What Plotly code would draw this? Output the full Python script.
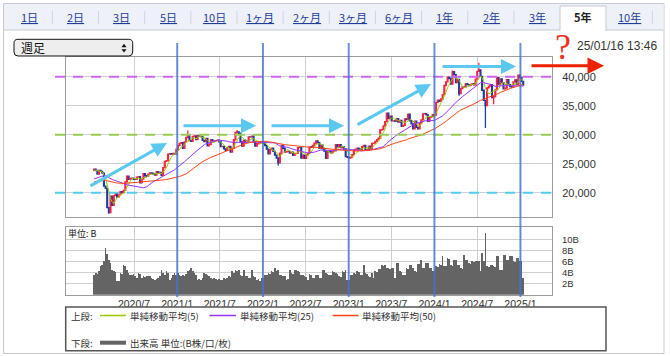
import pandas as pd
import plotly.graph_objects as go

# ---------------- data ----------------
# weekly closes used only to warm up the moving averages (Jan 2019 - Jan 2020)
close_2019 = [20774, 20788, 20333, 20900, 21425, 21602, 21025, 21450, 21627, 21205,
              21807, 21870, 22200, 22258, 21344, 21250, 21117, 20601, 20884, 21116,
              21258, 21275, 21746, 21685, 21466, 21658, 21087, 20684, 20418, 20710,
              20704, 21199, 21988, 22079, 21879, 21410, 21798, 22492, 22799, 22850,
              23391, 23303, 23112, 23293, 23354, 24023, 23816, 23837, 23850]
close_2020 = [24041, 23827, 23205, 23827, 23688, 23386, 21142, 20749, 17431, 16552,
              19389, 17820, 19498, 19897, 19262, 19619, 20179, 20037, 20388, 21877,
              22863, 22305, 22478, 22512, 22306, 22290, 22696, 22751, 21710, 22329,
              23289, 22920, 22882, 23205, 23406, 23360, 23204, 23029, 23619, 23410,
              23516, 22977, 24325, 25385, 25527, 26644, 26751, 26652, 26763, 26656, 27444]
close_2021 = [28139, 28519, 28631, 27663, 28779, 29520, 30018, 28966, 28864, 29717,
              29792, 29176, 29854, 29768, 29683, 29020, 28812, 29357, 28084, 28317,
              29149, 28941, 28948, 28964, 29066, 28783, 27940, 28003, 27548, 27283,
              27820, 27977, 27013, 27641, 29128, 30381, 30500, 30248, 28771, 28048,
              29068, 28804, 28892, 29611, 29609, 29745, 28751, 28029, 28437, 28545, 28782, 28791]
close_2022 = [28479, 28124, 27522, 26717, 27440, 27696, 27122, 26476, 25985, 25163,
              26827, 28149, 27666, 26985, 27093, 27105, 26848, 27003, 26427, 26739,
              26781, 27761, 27824, 25963, 26491, 25935, 26517, 26788, 27914, 27801,
              28175, 28546, 28930, 28641, 27650, 28214, 27567, 27153, 25937, 27116,
              27090, 26890, 27105, 27199, 28263, 27899, 28283, 27777, 27901, 27527, 26235, 26094]
close_2023 = [25973, 26119, 26553, 27382, 27509, 27670, 27513, 27453, 27927, 28143,
              27333, 27385, 28041, 27518, 28493, 28564, 28856, 29157, 29388, 30808,
              30916, 31524, 32265, 33706, 32781, 33189, 32388, 32391, 32304, 32759,
              32193, 32473, 31450, 31624, 32710, 32606, 33533, 32402, 31857, 30994,
              32315, 31259, 30991, 31950, 32568, 33585, 33625, 33431, 32307, 32970, 33169, 33464]
close_2024 = [33377, 35577, 35963, 35751, 36158, 36897, 38487, 39098, 39910, 39689,
              38707, 40888, 40369, 38992, 39523, 37068, 37934, 38236, 38229, 38787,
              38646, 38487, 38683, 38814, 38596, 39583, 40912, 41190, 40063, 37667,
              35909, 35025, 38062, 38364, 38647, 36391, 36581, 37723, 39829, 38635,
              39605, 38981, 37913, 38053, 39500, 38642, 38283, 38208, 39091, 39470, 38701, 40281, 39894]
close_2025 = [39190, 38572]

# notable weekly wicks (week start, high, low)
wick_weeks = ["2020-01-13", "2020-03-16", "2020-03-23", "2021-02-15", "2021-09-13",
              "2022-03-07", "2023-06-12", "2024-03-18", "2024-04-15", "2024-07-08",
              "2024-08-05", "2024-09-09"]
wick_high = [24116, None, 19564, 30714, 30795, None, 33772, 41087, None, 42426, None, None]
wick_low = [None, 16358, None, None, None, 24681, None, None, 36733, None, 31156, 35247]

# weekly volume in billions of shares
vol_2020 = [3.6, 3.9, 3.8, 4.2, 5.1, 5.4, 6.0, 8.5, 7.4, 6.3, 5.7, 4.5, 4.2, 4.1, 2.4, 2.5,
            3.9, 3.8, 5.4, 5.2, 4.5, 3.9, 3.6, 3.5, 3.7, 3.3, 3.0, 4.0, 3.8, 3.0, 3.3, 3.2,
            3.4, 3.4, 3.3, 3.0, 2.9, 2.6, 2.9, 3.0, 3.3, 4.5, 4.0, 3.6, 4.2, 4.0, 2.7, 3.0,
            3.6, 3.9, 3.5]
vol_2021 = [3.9, 3.6, 3.3, 3.6, 3.3, 3.7, 4.2, 4.5, 4.8, 4.2, 3.9, 3.6, 2.7, 2.8, 2.7, 3.0,
            3.9, 3.8, 3.6, 3.3, 3.0, 2.9, 3.0, 2.9, 2.7, 2.8, 2.7, 2.6, 3.0, 2.8, 3.0, 3.3,
            3.2, 4.2, 4.0, 4.5, 4.3, 4.5, 3.6, 3.3, 4.5, 3.3, 3.4, 3.0, 3.1, 4.5, 3.3, 3.2,
            2.7, 2.8, 2.5, 3.0]
vol_2022 = [3.0, 3.6, 3.5, 3.9, 3.8, 4.2, 4.1, 4.9, 4.3, 4.4, 3.6, 3.5, 3.3, 3.4, 2.7, 2.8,
            4.5, 3.9, 3.8, 4.5, 4.4, 4.2, 4.1, 3.6, 3.5, 3.3, 3.2, 2.7, 3.7, 3.6, 3.0, 3.1,
            3.6, 3.5, 3.0, 3.1, 4.5, 4.4, 3.9, 3.8, 3.6, 3.5, 4.2, 4.1, 3.9, 3.8, 3.3, 3.2,
            4.2, 4.1, 4.5, 2.7]
vol_2023 = [2.7, 3.6, 3.5, 3.9, 3.8, 4.2, 4.1, 3.6, 3.5, 5.3, 3.9, 3.8, 3.3, 3.2, 3.9, 3.0,
            4.2, 4.1, 4.7, 4.6, 5.3, 5.2, 5.3, 4.9, 4.8, 4.7, 4.9, 4.8, 3.0, 5.8, 5.7, 4.2,
            4.1, 3.6, 3.5, 4.8, 4.7, 5.4, 5.3, 4.8, 4.2, 4.1, 5.6, 5.5, 6.2, 4.9, 4.8, 5.8,
            5.7, 4.9, 4.8, 4.2]
vol_2024 = [4.2, 5.1, 5.0, 5.5, 5.4, 6.9, 5.2, 5.1, 6.6, 6.5, 5.3, 5.2, 6.3, 6.2, 5.4, 5.3,
            4.8, 4.7, 7.2, 6.3, 6.2, 5.7, 5.6, 6.0, 5.9, 6.0, 6.1, 6.0, 4.2, 7.5, 6.0, 11.2,
            5.1, 5.0, 5.4, 5.3, 5.1, 5.0, 7.0, 6.9, 4.5, 4.4, 7.2, 7.1, 6.3, 6.2, 7.0, 6.9,
            6.0, 5.9, 6.7, 6.6, 6.1]
vol_2025 = [6.1, 3.0]

first_week = "2020-01-13"
x_tick_dates = ["2020-07-01", "2021-01-01", "2021-07-01", "2022-01-01", "2022-07-01",
                "2023-01-01", "2023-07-01", "2024-01-01", "2024-07-01", "2025-01-01"]
x_tick_labels = ["2020/7", "2021/1", "2021/7", "2022/1", "2022/7",
                 "2023/1", "2023/7", "2024/1", "2024/7", "2025/1"]
marker_dates = ["2021-01-01", "2022-01-01", "2023-01-01", "2024-01-01", "2025-01-01"]
price_ticks = [20000, 25000, 30000, 35000, 40000]
price_tick_labels = ["20,000", "25,000", "30,000", "35,000", "40,000"]
vol_ticks = [2, 4, 6, 8, 10]
vol_tick_labels = ["2B", "4B", "6B", "8B", "10B"]
level_prices = [40000, 30000, 20000]
level_colors = ["#cc66ee", "#99cc55", "#55ccee"]
tab_labels = ["1日", "2日", "3日", "5日", "10日", "1ヶ月", "2ヶ月", "3ヶ月", "6ヶ月",
              "1年", "2年", "3年", "5年", "10年"]
active_tab = "5年"
ma_periods = [5, 25, 50]
ma_colors = ["#99cc00", "#9933ff", "#ff4411"]
ma_names = ["単純移動平均(5)", "単純移動平均(25)", "単純移動平均(50)"]

# ---------------- derived series ----------------
closes = close_2020 + close_2021 + close_2022 + close_2023 + close_2024 + close_2025
volumes = vol_2020 + vol_2021 + vol_2022 + vol_2023 + vol_2024 + vol_2025
dates = pd.date_range(first_week, periods=len(closes), freq="7D")
opens = [close_2019[-1]] + closes[:-1]
highs = [max(o, c) for o, c in zip(opens, closes)]
lows = [min(o, c) for o, c in zip(opens, closes)]
for d, h, l in zip(wick_weeks, wick_high, wick_low):
    k = list(dates).index(pd.Timestamp(d))
    if h is not None:
        highs[k] = max(highs[k], h)
    if l is not None:
        lows[k] = min(lows[k], l)
full = pd.Series(close_2019 + closes)
n0 = len(close_2019)
mas = [full.rolling(p).mean().iloc[n0:].tolist() for p in ma_periods]

# ---------------- layout helpers ----------------
W, H = 670, 356
def px(x): return x / W
def py(y): return 1 - y / H

ref_day = pd.Timestamp("2020-07-01")   # sits at pixel 134
ppd = 85.8 / 365.25
x_left = ref_day - pd.Timedelta(days=(134 - 66) / ppd)
x_right = ref_day + pd.Timedelta(days=(552 - 134) / ppd)

FONT = "Liberation Sans, Arial, Noto Sans CJK JP, sans-serif"
JFONT = "Noto Sans CJK JP, Liberation Sans, sans-serif"
GRID = "#cfcfcf"
BORDER = "#9c9c9c"

def text(x, y, s, size, color="#333333", family=JFONT, xanchor="left", **kw):
    f = dict(family=family, size=size, color=color)
    f.update(kw)
    return dict(x=px(x), y=py(y), xref="paper", yref="paper", text=s, showarrow=False,
                xanchor=xanchor, yanchor="middle", font=f, borderpad=0)

fig = go.Figure()
fig.add_trace(go.Bar(x=dates, y=volumes, xaxis="x2", yaxis="y2",
                     marker=dict(color="#646464", line=dict(width=0)), hoverinfo="skip"))
fig.add_trace(go.Candlestick(x=dates, open=opens, high=highs, low=lows, close=closes,
                             increasing=dict(line=dict(color="#ff2244", width=1.3), fillcolor="#ff2244"),
                             decreasing=dict(line=dict(color="#1a3d99", width=1.3), fillcolor="#1a3d99"),
                             whiskerwidth=0, hoverinfo="skip"))
for ma, col in zip(mas, ma_colors):
    fig.add_trace(go.Scatter(x=dates, y=ma, mode="lines", line=dict(color=col, width=1),
                             hoverinfo="skip"))

shapes = []
ann = []
# outer frame & tab bar
shapes.append(dict(type="rect", xref="paper", yref="paper", x0=px(3.5), x1=px(664), y0=py(353.5), y1=py(3.5),
                   line=dict(color="#c5c9d1", width=1), fillcolor="white", layer="below"))
shapes.append(dict(type="rect", xref="paper", yref="paper", x0=px(4), x1=px(663.5), y0=py(30), y1=py(4),
                   line=dict(width=0), fillcolor="#eef2f8", layer="below"))
shapes.append(dict(type="line", xref="paper", yref="paper", x0=px(4), x1=px(663.5), y0=py(30), y1=py(30),
                   line=dict(color="#c5c9d1", width=1)))
shapes.append(dict(type="rect", xref="paper", yref="paper", x0=px(560), x1=px(606), y0=py(30.5), y1=py(6),
                   line=dict(color="#c5c9d1", width=1), fillcolor="white"))
shapes.append(dict(type="line", xref="paper", yref="paper", x0=px(560.6), x1=px(605.4), y0=py(30.2), y1=py(30.2),
                   line=dict(color="white", width=2)))
for j in range(len(tab_labels)):
    xs = 52.4 + 46.15 * j
    if abs(xs - 560) < 3 or abs(xs - 606) < 3:
        continue
    shapes.append(dict(type="line", xref="paper", yref="paper", x0=px(xs), x1=px(xs), y0=py(24), y1=py(11),
                       line=dict(color="#cfd4dc", width=1)))
for j, lab in enumerate(tab_labels):
    xc = 29.6 + 46.15 * j
    if lab == active_tab:
        ann.append(text(xc, 17.5, "<b>" + lab + "</b>", 11, "#222222", xanchor="center"))
    else:
        ann.append(text(xc, 17.5, lab, 11, "#1f3d9a", xanchor="center", lineposition="under"))

# dropdown
x0, y0, x1, y1, r = 14, 39.3, 132.7, 56, 4
def P(x, y): return f"{px(x):.5f},{py(y):.5f}"
path = (f"M {P(x0+r,y0)} L {P(x1-r,y0)} Q {P(x1,y0)} {P(x1,y0+r)} L {P(x1,y1-r)} Q {P(x1,y1)} {P(x1-r,y1)} "
        f"L {P(x0+r,y1)} Q {P(x0,y1)} {P(x0,y1-r)} L {P(x0,y0+r)} Q {P(x0,y0)} {P(x0+r,y0)} Z")
shapes.append(dict(type="path", xref="paper", yref="paper", path=path,
                   line=dict(color="#111111", width=1), fillcolor="#eeeeee"))
shapes.append(dict(type="path", xref="paper", yref="paper",
                   path=f"M {P(121.5,47.2)} L {P(126.5,47.2)} L {P(124,43.8)} Z", line=dict(width=0), fillcolor="#111"))
shapes.append(dict(type="path", xref="paper", yref="paper",
                   path=f"M {P(121.5,49.2)} L {P(126.5,49.2)} L {P(124,52.6)} Z", line=dict(width=0), fillcolor="#111"))
ann.append(text(20, 47.5, "週足", 12, "#111111"))

# top-right
ann.append(text(563, 47, "?", 36, "#ee3322", family="Liberation Serif, serif", xanchor="center"))
ann.append(text(576, 45.5, "25/01/16 13:46", 12, "#333333", family=FONT))

# horizontal dashed levels
for lv, col in zip(level_prices, level_colors):
    shapes.append(dict(type="line", xref="paper", yref="y", x0=px(55), x1=px(558), y0=lv, y1=lv,
                       line=dict(color=col, width=2, dash="10px,8px"), layer="above"))
# blue vertical markers
for d in marker_dates:
    shapes.append(dict(type="line", xref="x", yref="paper", x0=d, x1=d, y0=py(297), y1=py(43),
                       line=dict(color="rgba(70,115,210,0.8)", width=2), layer="above"))

# arrows
cyan_arrows = [((89, 186.7), (167, 143)), ((182, 125.7), (256, 125.7)), ((270, 125.7), (344, 125.7)),
               ((356, 125.5), (431, 84)), ((441, 66.5), (516, 66.5))]
for (tx, ty), (hx, hy) in cyan_arrows:
    ann.append(dict(x=px(hx), y=py(hy), xref="paper", yref="paper", ax=tx - hx, ay=ty - hy, text="",
                    showarrow=True, arrowhead=2, arrowsize=1, arrowwidth=3, arrowcolor="#5bc8f0"))
ann.append(dict(x=px(604), y=py(65.7), xref="paper", yref="paper", ax=530 - 604, ay=0, text="",
                showarrow=True, arrowhead=2, arrowsize=1.1, arrowwidth=3, arrowcolor="#ee2200"))

# volume unit
ann.append(text(67, 233, "単位: B", 9, "#222222"))

# legend box
shapes.append(dict(type="rect", xref="paper", yref="paper", x0=px(65.7), x1=px(606), y0=py(350.7), y1=py(307),
                   line=dict(color="#555555", width=1.5), fillcolor="white"))
leg_y1, leg_y2 = 315.5, 342.7
ann.append(text(70, leg_y1, "上段:", 9.5))
ann.append(text(70, leg_y2, "下段:", 9.5))
leg_lines = [(100, 126), (209.5, 236), (332.6, 358.4)]
for (a, b), col, name in zip(leg_lines, ma_colors, ma_names):
    shapes.append(dict(type="line", xref="paper", yref="paper", x0=px(a), x1=px(b), y0=py(leg_y1), y1=py(leg_y1),
                       line=dict(color=col, width=1.5)))
    ann.append(text(b + 3, leg_y1, name, 9.5))
shapes.append(dict(type="line", xref="paper", yref="paper", x0=px(100), x1=px(126), y0=py(leg_y2), y1=py(leg_y2),
                   line=dict(color="#646464", width=4)))
ann.append(text(129, leg_y2, "出来高 単位:(B株/口/枚)", 9.5))

fig.update_layout(
    width=W, height=H, margin=dict(l=0, r=0, t=0, b=0), autosize=False,
    paper_bgcolor="white", plot_bgcolor="white", showlegend=False, hovermode=False,
    bargap=0, font=dict(family=FONT, color="#333"),
    xaxis=dict(domain=[px(66), px(552)], type="date", range=[x_left, x_right], anchor="y",
               tickvals=x_tick_dates, showticklabels=False, ticks="", showgrid=True, gridcolor=GRID,
               showline=True, mirror=True, linecolor=BORDER, zeroline=False, rangeslider=dict(visible=False),
               fixedrange=True),
    yaxis=dict(domain=[py(217), py(57)], range=[15810, 43397], anchor="x", side="right",
               tickvals=price_ticks, ticktext=price_tick_labels, showgrid=True, gridcolor=GRID,
               showline=True, mirror=True, linecolor=BORDER, zeroline=False, ticks="",
               ticklabelstandoff=7, tickfont=dict(family=FONT, size=11, color="#333"), fixedrange=True),
    xaxis2=dict(domain=[px(66), px(552)], type="date", matches="x", anchor="y2",
                tickvals=x_tick_dates, ticktext=x_tick_labels, ticks="", showgrid=True, gridcolor=GRID,
                showline=True, mirror=True, linecolor=BORDER, zeroline=False,
                tickfont=dict(family=FONT, size=10.5, color="#333"), ticklabelstandoff=0, fixedrange=True),
    yaxis2=dict(domain=[py(294.7), py(227.3)], range=[0, 12.17], anchor="x2", side="right",
                tickvals=vol_ticks, ticktext=vol_tick_labels, showgrid=True, gridcolor=GRID,
                showline=True, mirror=True, linecolor=BORDER, zeroline=False, ticks="",
                ticklabelstandoff=7, tickfont=dict(family=FONT, size=9.5, color="#333"), fixedrange=True),
    shapes=shapes, annotations=ann,
)

fig.write_html("out.html", config=dict(displayModeBar=False, staticPlot=True),
               post_script="document.body.style.margin='0px';document.documentElement.style.overflow='hidden';")
